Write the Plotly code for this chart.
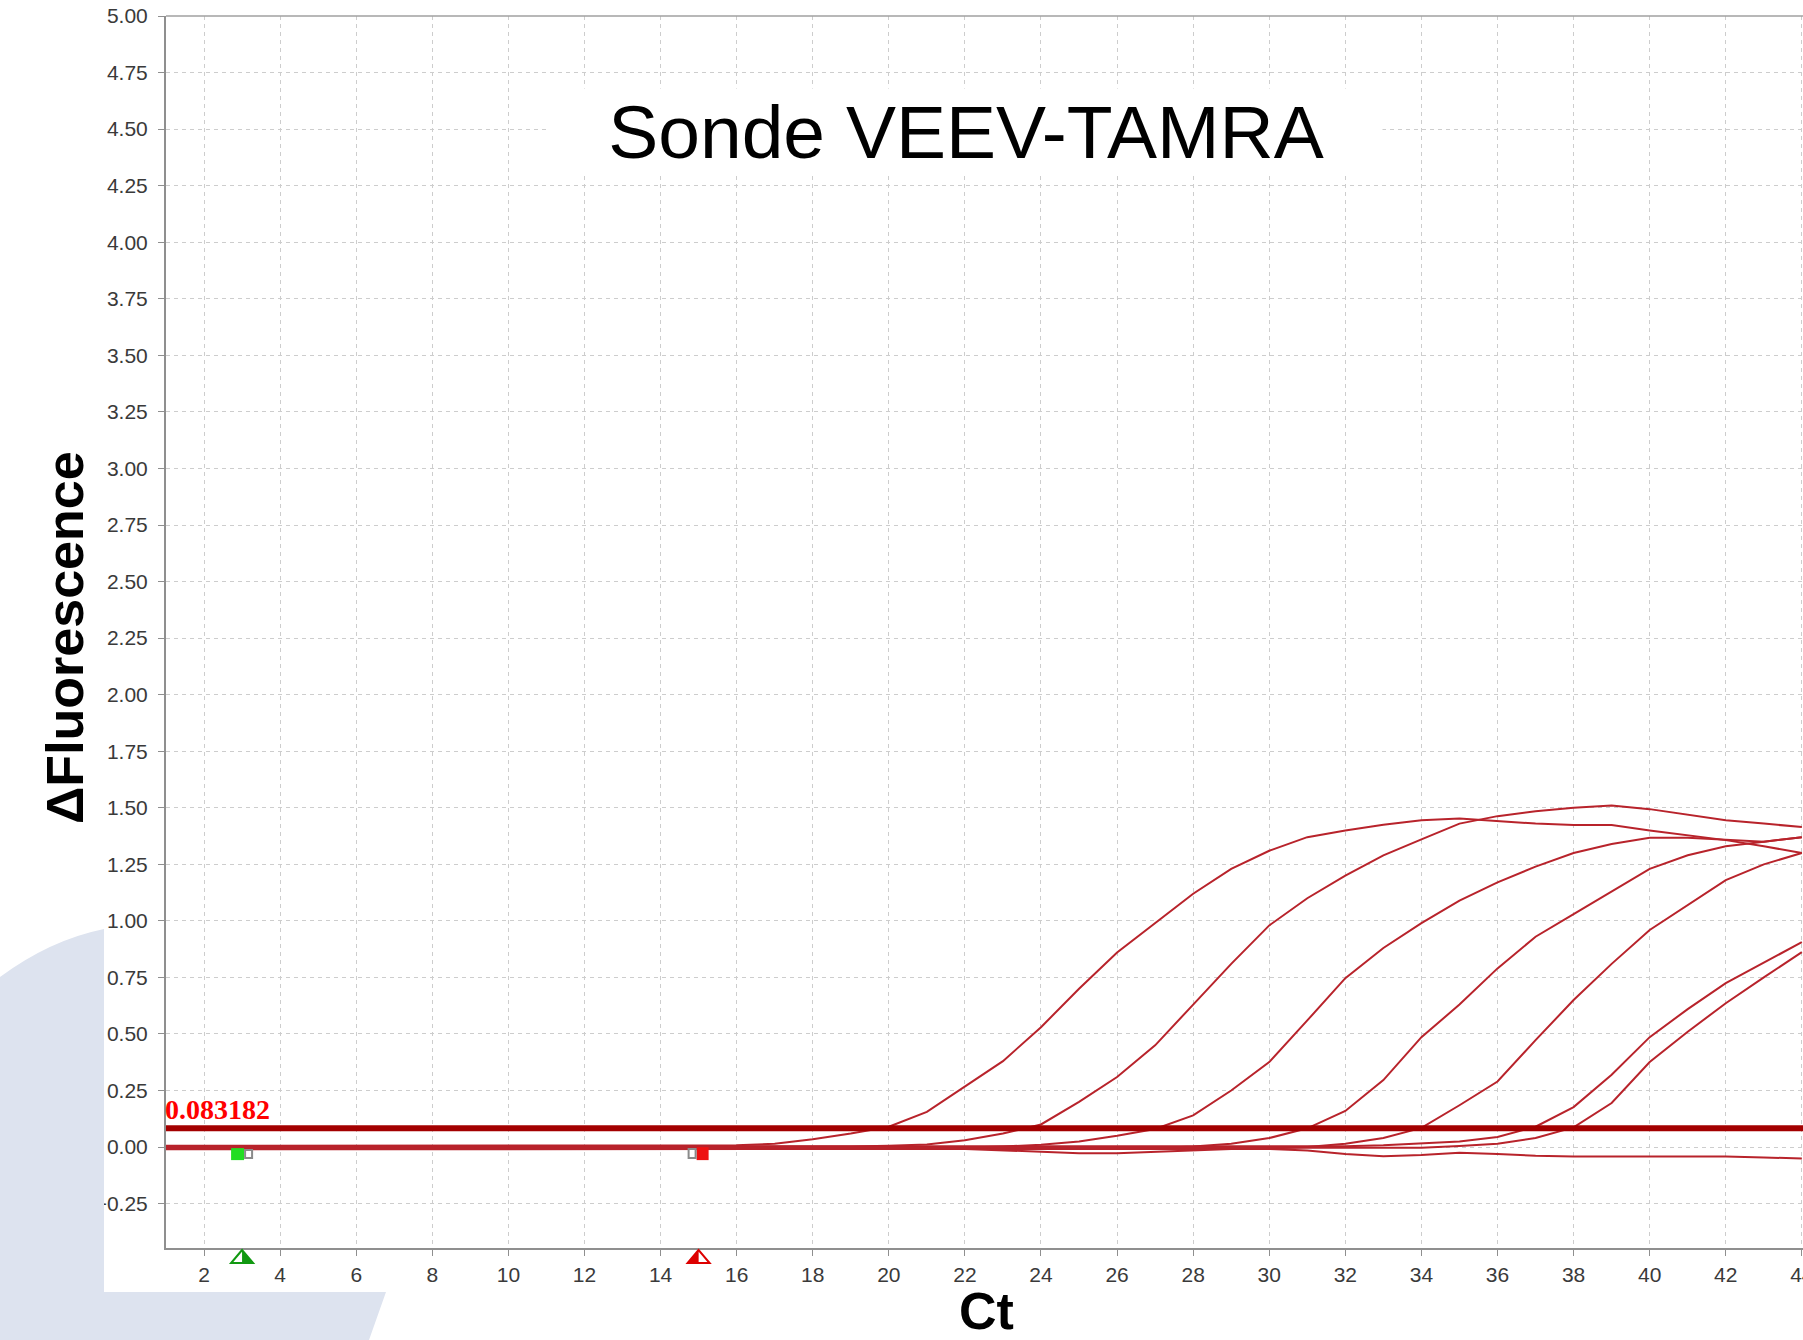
import plotly.graph_objects as go

# ---- data (cycle 1..44) ----
cycles = list(range(1, 45))

curve_a = [0.006, 0.006, 0.006, 0.006, 0.006, 0.006, 0.006, 0.006, 0.006, 0.006,
           0.006, 0.006, 0.006, 0.006, 0.006, 0.008, 0.015, 0.035, 0.06, 0.09,
           0.156, 0.27, 0.38, 0.53, 0.70, 0.86, 0.99, 1.12, 1.23, 1.31,
           1.37, 1.40, 1.425, 1.445, 1.453, 1.443, 1.43, 1.424, 1.424, 1.40,
           1.38, 1.357, 1.33, 1.30]
curve_b = [0.002, 0.002, 0.002, 0.002, 0.002, 0.002, 0.002, 0.002, 0.002, 0.002,
           0.002, 0.002, 0.002, 0.002, 0.002, 0.002, 0.002, 0.002, 0.003, 0.006,
           0.012, 0.03, 0.06, 0.10, 0.20, 0.31, 0.45, 0.63, 0.81, 0.98,
           1.10, 1.20, 1.29, 1.36, 1.43, 1.463, 1.485, 1.50, 1.51, 1.494,
           1.47, 1.445, 1.43, 1.415]
curve_c = [-0.002, -0.002, -0.002, -0.002, -0.002, -0.002, -0.002, -0.002, -0.002, -0.002,
           -0.002, -0.002, -0.002, -0.002, -0.002, -0.002, -0.002, -0.002, -0.002, -0.002,
           -0.002, -0.002, 0.003, 0.01, 0.025, 0.05, 0.08, 0.14, 0.25, 0.376,
           0.56, 0.747, 0.88, 0.99, 1.09, 1.17, 1.24, 1.30, 1.34, 1.367,
           1.367, 1.357, 1.35, 1.37]
curve_d = [-0.006, -0.006, -0.006, -0.006, -0.006, -0.006, -0.006, -0.006, -0.006, -0.006,
           -0.006, -0.006, -0.006, -0.006, -0.006, -0.006, -0.006, -0.006, -0.006, -0.006,
           -0.006, -0.006, -0.006, -0.006, -0.006, -0.006, -0.004, 0.003, 0.015, 0.04,
           0.083, 0.16, 0.296, 0.486, 0.63, 0.79, 0.93, 1.03, 1.13, 1.23,
           1.29, 1.33, 1.35, 1.37]
curve_e = [-0.010, -0.010, -0.010, -0.010, -0.010, -0.010, -0.010, -0.010, -0.010, -0.010,
           -0.010, -0.010, -0.010, -0.010, -0.010, -0.010, -0.010, -0.010, -0.010, -0.010,
           -0.010, -0.010, -0.010, -0.010, -0.010, -0.010, -0.010, -0.010, -0.008, -0.006,
           0.0, 0.015, 0.04, 0.085, 0.185, 0.29, 0.473, 0.65, 0.81, 0.96,
           1.07, 1.18, 1.25, 1.30]
curve_f = [0.004, 0.004, 0.004, 0.004, 0.004, 0.004, 0.004, 0.004, 0.004, 0.004,
           0.004, 0.004, 0.004, 0.004, 0.004, 0.004, 0.004, 0.004, 0.004, 0.004,
           0.004, 0.004, 0.004, 0.004, 0.004, 0.004, 0.004, 0.004, 0.004, 0.004,
           0.004, 0.004, 0.008, 0.015, 0.025, 0.045, 0.09, 0.177, 0.32, 0.486,
           0.61, 0.725, 0.815, 0.906]
curve_g = [-0.004, -0.004, -0.004, -0.004, -0.004, -0.004, -0.004, -0.004, -0.004, -0.004,
           -0.004, -0.004, -0.004, -0.004, -0.004, -0.004, -0.004, -0.004, -0.004, -0.004,
           -0.004, -0.004, -0.004, -0.004, -0.004, -0.004, -0.004, -0.004, -0.004, -0.004,
           -0.004, -0.004, -0.004, -0.003, 0.005, 0.015, 0.04, 0.087, 0.195, 0.376,
           0.51, 0.636, 0.75, 0.862]
curve_neg = [0.0, 0.0, 0.0, 0.0, 0.0, 0.0, 0.0, 0.0, 0.0, 0.0,
             0.0, 0.0, 0.0, 0.0, 0.0, 0.0, 0.0, 0.0, 0.0, 0.0,
             -0.003, -0.008, -0.015, -0.022, -0.027, -0.027, -0.02, -0.012, -0.008, -0.008,
             -0.015, -0.03, -0.04, -0.035, -0.025, -0.03, -0.038, -0.042, -0.042, -0.042,
             -0.042, -0.042, -0.046, -0.05]

curves = [curve_a, curve_b, curve_c, curve_d, curve_e, curve_f, curve_g, curve_neg]

threshold = 0.083182
threshold_label = "0.083182"
baseline_start = 3
baseline_end = 15

title_text = "Sonde VEEV-TAMRA"
x_title = "Ct"
y_title = "ΔFluorescence"

# ---- page geometry (pixels) ----
W_FIG, H_FIG = 1803, 1340
L, R, T, B = 166, 1803, 16, 1248
PW, PH = R - L, B - T


def px(x):
    return (x - L) / PW


def py(y):
    return (B - y) / PH


CURVE = "#b8232b"
THRESH = "#a30000"
GRID = "#cdcdcd"
AXIS = "#8f8f8f"
TICKFONT = dict(family="Liberation Sans, Arial, sans-serif", size=21, color="#3a3a3a")

fig = go.Figure()
for ys in curves:
    fig.add_trace(go.Scatter(x=cycles, y=ys, mode="lines",
                             line=dict(color=CURVE, width=2), showlegend=False,
                             hoverinfo="skip"))

fig.add_trace(go.Scatter(x=[cycles[0], cycles[-1] + 1], y=[threshold, threshold], mode="lines",
                         line=dict(color=THRESH, width=6), showlegend=False, hoverinfo="skip"))

shapes = []
# light blue slide decoration (bottom-left)
blue_path = (f"M {px(0)} {py(977)} Q {px(50)} {py(940)} {px(104)} {py(929)} "
             f"L {px(104)} {py(1292)} L {px(386)} {py(1292)} L {px(369)} {py(1340)} "
             f"L {px(0)} {py(1340)} Z")
shapes.append(dict(type="path", xref="paper", yref="paper", path=blue_path,
                   fillcolor="#dde3ef", line=dict(width=0), layer="above"))
# top border
shapes.append(dict(type="line", xref="paper", yref="paper", x0=0, x1=1, y0=1, y1=1,
                   line=dict(color="#a0a0a0", width=1.5)))

# baseline start / end handles on the curve
shapes.append(dict(type="path", xref="x", yref="y", xsizemode="pixel", ysizemode="pixel",
                   xanchor=baseline_start, yanchor=0,
                   path="M -11 -1 L 2 -1 L 2 -13 L -11 -13 Z",
                   fillcolor="#22dd22", line=dict(width=0)))
shapes.append(dict(type="path", xref="x", yref="y", xsizemode="pixel", ysizemode="pixel",
                   xanchor=baseline_start, yanchor=0,
                   path="M 3 -3 L 10 -3 L 10 -11 L 3 -11 Z",
                   fillcolor="white", line=dict(color="#8a8a8a", width=2)))
shapes.append(dict(type="path", xref="x", yref="y", xsizemode="pixel", ysizemode="pixel",
                   xanchor=baseline_end, yanchor=0,
                   path="M -2 0 L 10 0 L 10 -13 L -2 -13 Z",
                   fillcolor="#ee1111", line=dict(width=0)))
shapes.append(dict(type="path", xref="x", yref="y", xsizemode="pixel", ysizemode="pixel",
                   xanchor=baseline_end, yanchor=0,
                   path="M -10 -2 L -3 -2 L -3 -11 L -10 -11 Z",
                   fillcolor="white", line=dict(color="#8a8a8a", width=2)))

# triangles under the axis
for xv, col, half in [(baseline_start, "#119911", "M 0 -2 L 0 -15 L 11 -15 Z"),
                      (baseline_end, "#dd0000", "M 0 -2 L 0 -15 L -11 -15 Z")]:
    shapes.append(dict(type="path", xref="x", yref="paper", xsizemode="pixel", ysizemode="pixel",
                       xanchor=xv, yanchor=0, path=half, fillcolor=col, line=dict(width=0)))
    shapes.append(dict(type="path", xref="x", yref="paper", xsizemode="pixel", ysizemode="pixel",
                       xanchor=xv, yanchor=0, path="M 0 -2 L -11 -15 L 11 -15 Z",
                       fillcolor="rgba(0,0,0,0)", line=dict(color=col, width=2)))

annotations = [
    dict(text=title_text, xref="paper", yref="paper", x=px(966), y=py(132),
         xanchor="center", yanchor="middle", showarrow=False, bgcolor="white", width=830,
         font=dict(family="Liberation Sans, Arial, sans-serif", size=75, color="black")),
    dict(text=y_title, xref="paper", yref="paper", x=px(65), y=py(638), textangle=-90,
         xanchor="center", yanchor="middle", showarrow=False,
         font=dict(family="Liberation Sans, Arial, sans-serif", size=52, color="black",
                   weight="bold")),
    dict(text=x_title, xref="paper", yref="paper", x=px(987), y=py(1311),
         xanchor="center", yanchor="middle", showarrow=False,
         font=dict(family="Liberation Sans, Arial, sans-serif", size=52, color="black",
                   weight="bold")),
    dict(text=threshold_label, xref="x", yref="y", x=cycles[0], y=threshold,
         xanchor="left", yanchor="bottom", showarrow=False, yshift=1, xshift=-3,
         font=dict(family="Liberation Serif, Times New Roman, serif", size=28,
                   color="#ff0000", weight="bold")),
]

fig.update_layout(
    width=W_FIG, height=H_FIG,
    margin=dict(l=L, r=W_FIG - R, t=T, b=H_FIG - B),
    paper_bgcolor="white", plot_bgcolor="white",
    shapes=shapes, annotations=annotations,
    xaxis=dict(range=[1, 44.03], tick0=0, dtick=2, showgrid=True, gridcolor=GRID,
               griddash="4px,4px", gridwidth=1, zeroline=False, showline=True,
               linecolor=AXIS, linewidth=2, ticks="outside", ticklen=6, tickcolor=AXIS,
               tickfont=TICKFONT, ticklabelstandoff=1, ticklabeloverflow="allow",
               automargin=False),
    yaxis=dict(range=[-0.446, 5.0], tick0=0, dtick=0.25, tickformat=".2f", showgrid=True,
               gridcolor=GRID, griddash="4px,4px", gridwidth=1, zeroline=False,
               showline=True, linecolor=AXIS, linewidth=2, ticks="outside", ticklen=6,
               tickcolor=AXIS, tickfont=TICKFONT, ticklabelstandoff=6, automargin=False),
)

fig.write_html("out.html", config={"displayModeBar": False},
               post_script="document.body.style.margin='0px';document.body.style.overflow='hidden';")
